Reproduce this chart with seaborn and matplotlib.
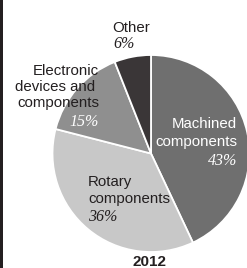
import matplotlib
matplotlib.use("Agg")
import matplotlib.pyplot as plt
import seaborn as sns
from matplotlib.patches import Rectangle

sns.set_theme(style="white")

# data
segments = ["Machined components", "Rotary components", "Electronic devices and components", "Other"]
shares = [43, 36, 15, 6]
colors = ["#6f6f6f", "#c8c8c8", "#8f8f8f", "#3a3637"]
year = "2012"

# label lines (text, pixel x, pixel y, align, color, is_pct)
label_lines = [
    ("Other", 131, 28, "center", "#231f20", False),
    ("6%", 113, 44, "left", "#231f20", True),
    ("Electronic", 99, 71, "right", "#231f20", False),
    ("devices and", 95, 87, "right", "#231f20", False),
    ("components", 99, 103, "right", "#231f20", False),
    ("15%", 99, 122, "right", "white", True),
    ("Machined", 237, 124, "right", "white", False),
    ("components", 237, 142, "right", "white", False),
    ("43%", 237, 161, "right", "white", True),
    ("Rotary", 88, 182, "left", "#231f20", False),
    ("components", 88, 199, "left", "#231f20", False),
    ("36%", 88, 217, "left", "#231f20", True),
]

W, H = 247, 268
cx, cy, r = 151, 153.5, 98.5

fig = plt.figure(figsize=(W / 100, H / 100), dpi=100)
fig.patch.set_facecolor("white")
ax = fig.add_axes([(cx - r) / W, (H - cy - r) / H, 2 * r / W, 2 * r / H])
ax.pie(shares, colors=colors, startangle=90, counterclock=False,
       wedgeprops=dict(edgecolor="white", linewidth=1.3))
ax.set_xlim(-1, 1)
ax.set_ylim(-1, 1)
ax.set_aspect("equal")
ax.axis("off")

for txt, px, py, ha, col, pct in label_lines:
    if pct:
        fig.text(px / W, 1 - py / H, txt, ha=ha, va="center", color=col,
                 fontsize=11.5, family="Liberation Serif", style="italic")
    else:
        fig.text(px / W, 1 - py / H, txt, ha=ha, va="center", color=col,
                 fontsize=10.8, family="Liberation Sans")

fig.text(149 / W, 1 - 262 / H, year, ha="center", va="center", color="#231f20",
         fontsize=11, fontweight="bold", family="Liberation Sans")

fig.add_artist(Rectangle((0, 0), 2.5 / W, 1, transform=fig.transFigure,
                         color="#231f20", lw=0))

fig.savefig("out.png", dpi=100)
